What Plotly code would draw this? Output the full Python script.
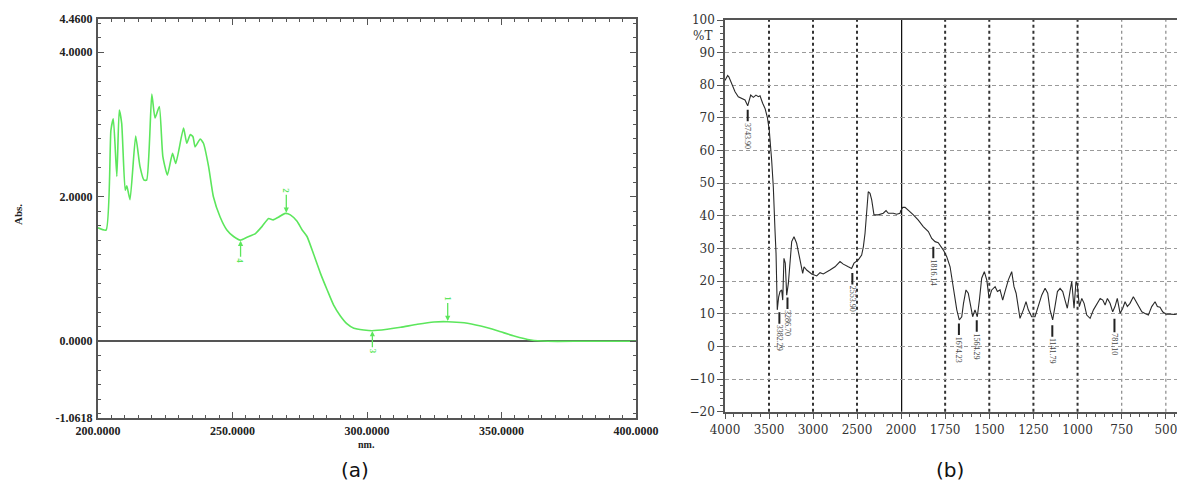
import plotly.graph_objects as go

# ---------------- (a) UV-Vis spectrum ----------------
uv_nm = [200, 203.0, 204.8, 205.7, 207.0, 207.9, 208.8, 210.1, 210.7, 211.9, 214.0, 215.6,
         217.1, 218.1, 220.0, 221.2, 222.8, 224.1, 225.8, 227.7, 228.9, 231.8, 233.0, 234.3,
         235.3, 236.1, 238.0, 239.2, 241.1, 242.9, 245.4, 247.9, 250.4, 252.9, 255.4, 258.5,
         261.0, 263.4, 265.1, 267.2, 269.6, 271.5, 274.0, 275.9, 277.7, 280.2, 282.7, 285.2,
         287.6, 290.1, 292.6, 295.1, 298.8, 301.9, 307.5, 312.5, 318.7, 324.9, 329.9, 336.1,
         342.3, 348.5, 354.7, 360.9, 367.1, 380, 400]
uv_abs = [1.57, 1.54, 2.92, 3.08, 2.28, 3.20, 3.02, 2.09, 2.15, 1.96, 2.84, 2.42,
          2.23, 2.23, 3.42, 3.09, 3.25, 2.56, 2.30, 2.60, 2.46, 2.95, 2.74, 2.86,
          2.83, 2.69, 2.80, 2.74, 2.42, 2.00, 1.72, 1.54, 1.45, 1.40, 1.44, 1.49,
          1.59, 1.70, 1.68, 1.72, 1.77, 1.75, 1.66, 1.54, 1.45, 1.20, 0.94, 0.71,
          0.50, 0.35, 0.24, 0.18, 0.156, 0.146, 0.166, 0.193, 0.235, 0.267, 0.271, 0.257,
          0.211, 0.146, 0.073, 0.018, 0.0, 0.0, 0.0]
uv_xticks = [200, 250, 300, 350, 400]
uv_xtick_text = ["200.0000", "250.0000", "300.0000", "350.0000", "400.0000"]
uv_yticks = [4.46, 4.0, 2.0, 0.0, -1.0618]
uv_ytick_text = ["4.4600", "4.0000", "2.0000", "0.0000", "-1.0618"]

uv_mark_nm = [330, 270, 302, 253]
uv_mark_abs = [0.28, 1.78, 0.14, 1.39]
uv_mark_text = ["1", "2", "3", "4"]
uv_mark_side = ["above", "above", "below", "below"]

# ---------------- (b) IR spectrum ----------------
ir_wn = [4000, 3970, 3955, 3924, 3886, 3849, 3811, 3773, 3742, 3708, 3678, 3648, 3621, 3602,
         3572, 3545, 3519, 3497, 3470, 3451, 3432, 3420, 3406, 3390, 3375, 3356, 3344, 3330,
         3315, 3299, 3280, 3261, 3242, 3216, 3186, 3155, 3140, 3117, 3102, 3072, 3015, 2958,
         2920, 2883, 2807, 2750, 2693, 2656, 2599, 2561, 2534, 2485, 2447, 2428, 2409, 2390,
         2372, 2352, 2333, 2307, 2258, 2201, 2170, 2144, 2087, 2049, 2011, 2000, 1990, 1977,
         1959, 1930, 1902, 1874, 1845, 1826, 1807, 1789, 1760, 1741, 1722, 1704, 1694, 1684,
         1670, 1656, 1646, 1632, 1619, 1609, 1594, 1581, 1568, 1556, 1543, 1528, 1514, 1501,
         1486, 1467, 1454, 1439, 1424, 1411, 1392, 1373, 1360, 1348, 1335, 1326, 1307, 1292,
         1279, 1260, 1241, 1222, 1203, 1184, 1169, 1156, 1141, 1128, 1114, 1099, 1084, 1071,
         1058, 1043, 1033, 1020, 1009, 1001, 990, 976, 963, 948, 929, 910, 891, 872, 857, 844,
         831, 816, 801, 788, 775, 759, 744, 731, 718, 703, 684, 669, 656, 636, 618, 599, 580,
         561, 548, 533, 518, 499, 476, 448, 419, 400]
ir_T = [81.5, 83.0, 82.5, 80.6, 78.0, 76.5, 76.0, 75.5, 73.7, 77.0, 76.3, 77.0, 76.5, 76.8,
        74.5, 72.9, 70.2, 66.3, 57.1, 48.9, 35.7, 28.5, 11.2, 15.2, 16.8, 17.3, 14.2, 27.0,
        25.5, 15.7, 19.3, 26.5, 32.1, 33.6, 31.6, 27.5, 25.5, 22.4, 24.4, 23.4, 22.2, 21.6,
        22.6, 22.2, 23.4, 24.4, 26.0, 25.2, 24.4, 23.9, 25.5, 26.5, 28.0, 30.5, 34.6, 40.0,
        47.4, 46.9, 44.9, 40.3, 40.3, 40.8, 41.6, 40.8, 40.8, 40.5, 40.8, 41.8, 42.6, 42.6,
        41.8, 40.3, 38.7, 36.7, 35.2, 33.1, 32.1, 31.8, 29.5, 27.5, 24.4, 18.3, 15.7, 11.2,
        8.1, 9.1, 13.2, 17.3, 16.3, 13.2, 9.1, 11.2, 9.1, 14.2, 20.9, 22.9, 20.3, 14.7,
        17.3, 18.3, 16.8, 17.3, 14.2, 16.8, 20.4, 22.9, 18.3, 16.3, 12.2, 8.6, 11.2, 13.7,
        11.2, 9.1, 9.1, 12.7, 15.7, 17.8, 16.3, 11.2, 8.1, 12.2, 16.8, 17.8, 16.8, 14.2,
        11.7, 16.8, 19.9, 11.7, 19.9, 18.8, 12.2, 14.7, 13.2, 9.6, 8.6, 11.2, 13.2, 14.7, 14.2, 12.7,
        14.7, 13.2, 10.6, 12.2, 14.7, 10.1, 11.7, 13.7, 12.2, 13.2, 15.2, 13.7, 12.2, 10.6, 10.1, 9.6, 12.2,
        13.7, 12.2, 12.0, 10.6, 9.9, 9.9, 9.8, 10.1, 9.1]

ir_yticks = [-20, -10, 0, 10, 20, 30, 40, 50, 60, 70, 80, 90, 100]
ir_xticks_hi = [4000, 3500, 3000, 2500, 2000]
ir_xticks_lo = [1750, 1500, 1250, 1000, 750, 500]
ir_grid_dark_hi = [3500, 3000, 2500]
ir_grid_dark_lo = [1750, 1500, 1250, 1000]
ir_grid_light_lo = [750, 500]
ir_split = 2000

ir_peak_wn = [3742, 3382, 3290, 2553, 1817, 1672, 1571, 1143, 791]
ir_peak_T = [72.5, 10.5, 15.0, 22.5, 30.5, 7.0, 8.0, 6.5, 8.5]
ir_peak_text = ["3743.90", "3382.29", "3286.70", "2553.90", "1816.14",
                "1674.23", "1564.29", "1141.79", "781.10"]

GREEN = "#5ce65c"
serif_b = "Liberation Serif"

fig = go.Figure()

fig.add_trace(go.Scatter(
    x=uv_nm, y=uv_abs, mode="lines", xaxis="x", yaxis="y",
    line=dict(color=GREEN, width=1.6, shape="spline", smoothing=0.5),
    showlegend=False, hoverinfo="skip"))

hi_w = [w for w in ir_wn if w >= ir_split]
hi_t = [t for w, t in zip(ir_wn, ir_T) if w >= ir_split]
lo_w = [w for w in ir_wn if w <= ir_split]
lo_t = [t for w, t in zip(ir_wn, ir_T) if w <= ir_split]
for xs, ys, xa in [(hi_w, hi_t, "x2"), (lo_w, lo_t, "x3")]:
    fig.add_trace(go.Scatter(
        x=xs, y=ys, mode="lines", xaxis=xa, yaxis="y2",
        line=dict(color="#2a2a2a", width=1.1),
        showlegend=False, hoverinfo="skip"))

W, H = 1185, 495
OX, OY = 8, 8   # page body margin offset
def px(x):
    return (x - OX) / W
def py(y):
    return (H - (y - OY)) / H

axcol = "#555555"
uv_font = dict(family=serif_b, size=12, color="#222", weight="bold")
ir_font = dict(family="DejaVu Serif", size=12, color="#333")
layout = dict(
    width=W, height=H, margin=dict(l=0, r=0, t=0, b=0, autoexpand=False),
    paper_bgcolor="white", plot_bgcolor="white", showlegend=False,
    xaxis=dict(domain=[px(98), px(636)], range=[200, 400], anchor="y", automargin=False,
               tickmode="array", tickvals=uv_xticks, ticktext=uv_xtick_text,
               ticks="inside", ticklen=6, tickwidth=1.2, tickcolor=axcol,
               minor=dict(tickmode="linear", tick0=200, dtick=5, ticks="inside",
                          ticklen=3, tickcolor=axcol),
               showline=True, linecolor=axcol, linewidth=2, mirror="allticks",
               showgrid=False, zeroline=False, tickfont=uv_font,
               ticklabelstandoff=1),
    yaxis=dict(domain=[py(418), py(19)], range=[-1.0618, 4.46], anchor="x", automargin=False,
               tickmode="array", tickvals=uv_yticks, ticktext=uv_ytick_text,
               ticks="inside", ticklen=6, tickwidth=1.2, tickcolor=axcol,
               minor=dict(tickmode="linear", tick0=0, dtick=0.2, ticks="inside",
                          ticklen=3, tickcolor=axcol),
               showline=True, linecolor=axcol, linewidth=2, mirror="allticks",
               showgrid=False, zeroline=True, zerolinecolor="#555", zerolinewidth=2,
               tickfont=uv_font, ticklabelstandoff=1),
    xaxis2=dict(domain=[px(725), px(901)], range=[4000, 2000], anchor="y2", automargin=False,
                tickmode="array", tickvals=ir_xticks_hi,
                ticks="outside", ticklen=6, tickwidth=1.2, tickcolor=axcol,
                minor=dict(tickmode="linear", tick0=2000, dtick=100, ticks="outside",
                           ticklen=4, tickcolor=axcol),
                showline=True, linecolor=axcol, linewidth=1.5, mirror=True,
                showgrid=False, zeroline=False, tickfont=ir_font),
    xaxis3=dict(domain=[px(901), px(1183.5)], range=[2000, 400], anchor="y2", automargin=False,
                tickmode="array", tickvals=ir_xticks_lo,
                ticks="outside", ticklen=6, tickwidth=1.2, tickcolor=axcol,
                minor=dict(tickmode="linear", tick0=2000, dtick=50, ticks="outside",
                           ticklen=4, tickcolor=axcol),
                showline=True, linecolor=axcol, linewidth=1.5, mirror=True,
                showgrid=False, zeroline=False, tickfont=ir_font),
    yaxis2=dict(domain=[py(411.7), py(20)], range=[-20, 100], anchor="x2", automargin=False,
                tickmode="array", tickvals=ir_yticks,
                ticks="outside", ticklen=6, tickwidth=1.2, tickcolor=axcol,
                minor=dict(tickmode="linear", tick0=0, dtick=2, ticks="outside",
                           ticklen=3, tickcolor=axcol, showgrid=False),
                showline=True, linecolor=axcol, linewidth=1.5,
                showgrid=True, gridcolor="#9a9a9a", griddash="4px,3px", gridwidth=1.3,
                zeroline=False, tickfont=ir_font),
)
fig.update_layout(**layout)

shapes = []
for v in ir_grid_dark_hi:
    shapes.append(dict(type="line", xref="x2", yref="y2 domain", x0=v, x1=v, y0=0, y1=1,
                       line=dict(color="#333", width=2, dash="dot"), layer="below"))
for v in ir_grid_dark_lo:
    shapes.append(dict(type="line", xref="x3", yref="y2 domain", x0=v, x1=v, y0=0, y1=1,
                       line=dict(color="#333", width=2, dash="dot"), layer="below"))
for v in ir_grid_light_lo:
    shapes.append(dict(type="line", xref="x3", yref="y2 domain", x0=v, x1=v, y0=0, y1=1,
                       line=dict(color="#888", width=1.2, dash="dot"), layer="below"))
shapes.append(dict(type="line", xref="x3", yref="y2 domain", x0=ir_split, x1=ir_split,
                   y0=0, y1=1, line=dict(color="#111", width=2.5), layer="below"))
fig.update_layout(shapes=shapes)

ann = []
for xv, yv, t, side in zip(uv_mark_nm, uv_mark_abs, uv_mark_text, uv_mark_side):
    ann.append(dict(x=xv, y=yv, xref="x", yref="y", text=t, textangle=90,
                    showarrow=True, arrowhead=2, arrowsize=0.8, arrowwidth=1.3,
                    arrowcolor=GREEN, ax=0, ay=(-22 if side == "above" else 20),
                    font=dict(family=serif_b, size=9, color=GREEN, weight="bold")))
for xv, yv, t in zip(ir_peak_wn, ir_peak_T, ir_peak_text):
    xa = "x2" if xv >= ir_split else "x3"
    ann.append(dict(x=xv, y=yv, xref=xa, yref="y2", text=t, textangle=90,
                    showarrow=True, arrowhead=0, arrowwidth=2, arrowcolor="#222",
                    ax=0, ay=26, standoff=0,
                    font=dict(family="Liberation Serif", size=8, color="#444")))
ann += [
    dict(x=px(18), y=py(215), xref="paper", yref="paper", text="Abs.", textangle=-90,
         xanchor="center", yanchor="middle", showarrow=False,
         font=dict(family=serif_b, size=11, color="#222", weight="bold")),
    dict(x=px(366), y=py(444), xref="paper", yref="paper", text="nm.",
         xanchor="center", yanchor="middle", showarrow=False, borderpad=0,
         font=dict(family=serif_b, size=10, color="#222", weight="bold")),
    dict(x=px(714), y=95, xref="paper", yref="y2", text="%T", xanchor="right",
         yanchor="middle", showarrow=False, font=ir_font),
    dict(x=px(355), y=py(470), xref="paper", yref="paper", text="(a)",
         xanchor="center", yanchor="middle", showarrow=False,
         font=dict(family="DejaVu Sans", size=20, color="#111")),
    dict(x=px(950), y=py(470), xref="paper", yref="paper", text="(b)",
         xanchor="center", yanchor="middle", showarrow=False,
         font=dict(family="DejaVu Sans", size=20, color="#111")),
]
fig.update_layout(annotations=ann)

fig.write_html("out.html")
